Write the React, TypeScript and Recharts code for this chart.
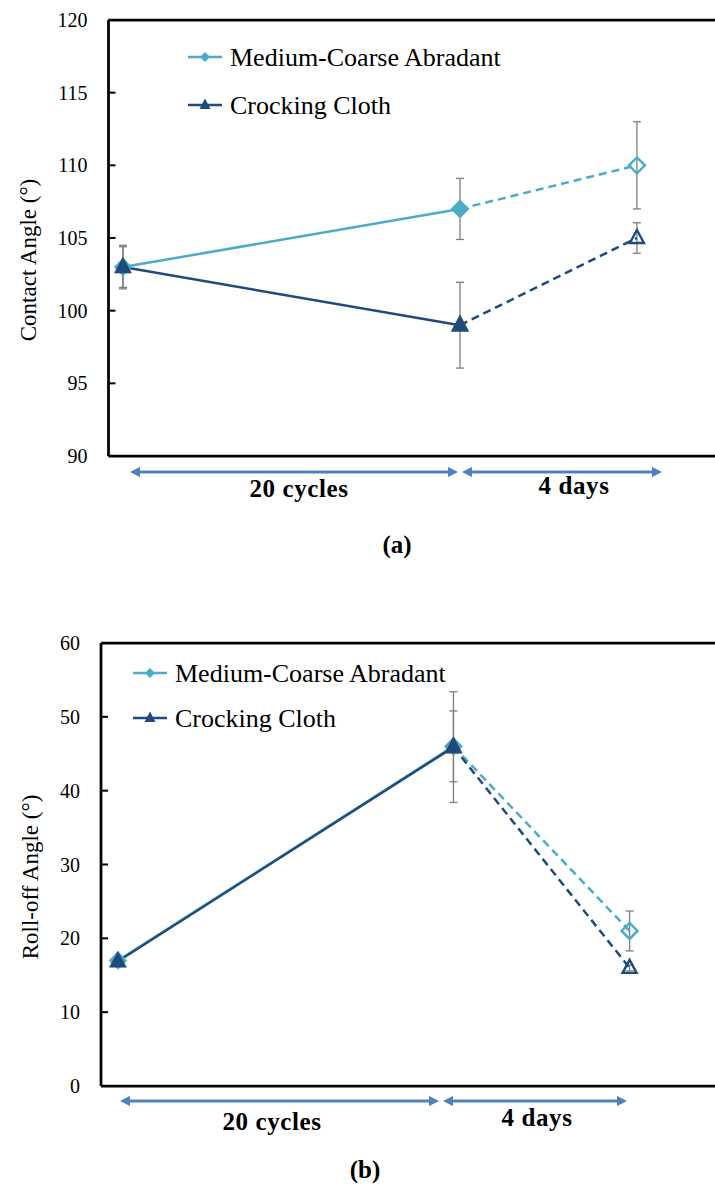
import React from "react";
import { ErrorBar, Line, LineChart, ReferenceLine, XAxis, YAxis } from "recharts";

const FONT = '"Liberation Serif", "Times New Roman", serif';
const CYAN = "#4bacc6";
const NAVY = "#1f4a7c";
const ARROW = "#4f81bd";
const ERR = "#7f7f7f";

const seriesNames = ["Medium-Coarse Abradant", "Crocking Cloth"];
// position of the three measurements along the horizontal axis
const stagePos = [0, 2, 3.05];
const phaseLabels = ["20 cycles", "4 days"];

// (a) contact angle
const contactMC = [103, 107, 110];
const contactMCErr = [1.5, 2.1, 3.0];
const contactCC = [103, 99, 105];
const contactCCErr = [1.4, 2.95, 1.05];
const contactTicks = [90, 95, 100, 105, 110, 115, 120];

// (b) roll-off angle
const rollMC = [17, 46, 21];
const rollMCErr = [0.5, 4.8, 2.7];
const rollCC = [16.9, 45.9, 16];
const rollCCErr = [0.4, 7.5, 0.4];
const rollTicks = [0, 10, 20, 30, 40, 50, 60];

type Row = { x: number; mc: number; mcErr: number; cc: number; ccErr: number };

function buildRows(mc: number[], mcErr: number[], cc: number[], ccErr: number[]): Row[] {
  return stagePos.map((x, i) => ({ x, mc: mc[i], mcErr: mcErr[i], cc: cc[i], ccErr: ccErr[i] }));
}

const diamondPath = (cx: number, cy: number, r: number) =>
  `M${cx},${cy - r}L${cx + r},${cy}L${cx},${cy + r}L${cx - r},${cy}Z`;
const trianglePath = (cx: number, cy: number, w: number, up: number, down: number) =>
  `M${cx},${cy - up}L${cx + w},${cy + down}L${cx - w},${cy + down}Z`;

// openIdx: index (within the line's own data) drawn as a hollow marker
const makeDot = (shape: "diamond" | "triangle", color: string, openIdx: number) => (p: any) => {
  const { cx, cy, index } = p;
  if (cx == null || cy == null) return <g key={`e-${index}`} />;
  const open = index === openIdx;
  const d =
    shape === "diamond"
      ? diamondPath(cx, cy, open ? 8 : 9)
      : open
      ? trianglePath(cx, cy, 7, 8, 5)
      : trianglePath(cx, cy, 8.5, 10, 6);
  return (
    <path
      key={`${shape}-${index}`}
      d={d}
      fill={open ? "none" : color}
      stroke={color}
      strokeWidth={open ? 2.4 : 0.5}
    />
  );
};

const AxisTick = (p: any) => {
  const { x, y, payload } = p;
  return (
    <g>
      <text x={x} y={y} dy="0.35em" textAnchor="end" fontSize={20} fill="#000" fontFamily={FONT}>
        {payload.value}
      </text>
      <line x1={x + 21} x2={x + 28} y1={y} y2={y} stroke="#000" strokeWidth={2} />
    </g>
  );
};

const LegendBox = ({ left, top, gap }: { left: number; top: number; gap: number }) => (
  <g transform={`translate(${left},${top})`}>
    {seriesNames.map((name, i) => {
      const y = i * gap;
      const color = i === 0 ? CYAN : NAVY;
      return (
        <g key={name}>
          <line x1={0} x2={34} y1={y} y2={y} stroke={color} strokeWidth={2.5} />
          <path
            d={i === 0 ? diamondPath(17, y, 5) : trianglePath(17, y, 5.5, 6.5, 4)}
            fill={color}
          />
          <text x={42} y={y} dy="0.33em" fontSize={26} fontFamily={FONT} fill="#000">
            {name}
          </text>
        </g>
      );
    })}
  </g>
);

type PanelProps = {
  rows: Row[];
  ticks: number[];
  yDomain: [number, number];
  xDomain: [number, number];
  yAxisWidth: number;
  marginTop: number;
  height: number;
  top: number;
};

function Panel(props: PanelProps) {
  const { rows, ticks, yDomain, xDomain, yAxisWidth, marginTop, height, top } = props;
  const axisStyle = { stroke: "#000", strokeWidth: 2.75 };
  return (
    <div style={{ position: "absolute", left: 0, top }}>
      <LineChart width={730} height={height} data={rows} margin={{ top: marginTop, right: 10, bottom: 15, left: 0 }}>
        <XAxis
          type="number"
          dataKey="x"
          domain={xDomain}
          allowDataOverflow
          ticks={stagePos}
          tick={false}
          tickLine={false}
          axisLine={axisStyle}
          height={1}
        />
        <YAxis
          type="number"
          domain={yDomain}
          allowDataOverflow
          ticks={ticks}
          interval={0}
          width={yAxisWidth}
          tickSize={0}
          tickMargin={21}
          tickLine={false}
          axisLine={axisStyle}
          tick={(p: any) => <AxisTick {...p} />}
        />
        <ReferenceLine y={yDomain[1]} stroke="#000" strokeWidth={2.75} />

        {/* error bars */}
        <Line dataKey="mc" stroke="none" dot={false} activeDot={false} legendType="none" isAnimationActive={false}>
          <ErrorBar dataKey="mcErr" width={4} stroke={ERR} strokeWidth={1.3} />
        </Line>
        <Line dataKey="cc" stroke="none" dot={false} activeDot={false} legendType="none" isAnimationActive={false}>
          <ErrorBar dataKey="ccErr" width={4} stroke={ERR} strokeWidth={1.3} />
        </Line>

        {/* Medium-Coarse Abradant */}
        <Line
          data={rows.slice(0, 2)}
          dataKey="mc"
          stroke={CYAN}
          strokeWidth={2.5}
          dot={makeDot("diamond", CYAN, -1)}
          activeDot={false}
          isAnimationActive={false}
        />
        <Line
          data={rows.slice(1)}
          dataKey="mc"
          stroke={CYAN}
          strokeWidth={2.5}
          strokeDasharray="8 5"
          dot={makeDot("diamond", CYAN, 1)}
          activeDot={false}
          isAnimationActive={false}
        />

        {/* Crocking Cloth */}
        <Line
          data={rows.slice(0, 2)}
          dataKey="cc"
          stroke={NAVY}
          strokeWidth={2.5}
          dot={makeDot("triangle", NAVY, -1)}
          activeDot={false}
          isAnimationActive={false}
        />
        <Line
          data={rows.slice(1)}
          dataKey="cc"
          stroke={NAVY}
          strokeWidth={2.5}
          strokeDasharray="8 5"
          dot={makeDot("triangle", NAVY, 1)}
          activeDot={false}
          isAnimationActive={false}
        />
      </LineChart>
    </div>
  );
}

const Arrow = ({ x1, x2, y }: { x1: number; x2: number; y: number }) => (
  <line x1={x1 + 9} x2={x2 - 9} y1={y} y2={y} stroke={ARROW} strokeWidth={3} markerStart="url(#ah)" markerEnd="url(#ah)" />
);

const boldText = { fontFamily: FONT, fontWeight: 700, fill: "#000" } as const;

export default function App() {
  const rowsA = buildRows(contactMC, contactMCErr, contactCC, contactCCErr);
  const rowsB = buildRows(rollMC, rollMCErr, rollCC, rollCCErr);
  return (
    <div style={{ position: "absolute", left: 0, top: 0, width: 715, height: 1191, overflow: "hidden", background: "#fff" }}>
      <Panel
        rows={rowsA}
        ticks={contactTicks}
        yDomain={[90, 120]}
        xDomain={[-0.086, 3.543]}
        yAxisWidth={108.5}
        marginTop={20}
        height={472}
        top={0}
      />
      <Panel
        rows={rowsB}
        ticks={rollTicks}
        yDomain={[0, 60]}
        xDomain={[-0.101, 3.589]}
        yAxisWidth={101}
        marginTop={43}
        height={502}
        top={600}
      />
      <svg width={715} height={1191} style={{ position: "absolute", left: 0, top: 0, pointerEvents: "none" }}>
        <defs>
          <marker id="ah" viewBox="0 0 10 10" refX="1" refY="5" markerWidth="3.4" markerHeight="3.4" orient="auto-start-reverse">
            <path d="M0,0L10,5L0,10Z" fill={ARROW} />
          </marker>
        </defs>
        <LegendBox left={188} top={57} gap={48} />
        <LegendBox left={133} top={673} gap={45} />

        <text transform="translate(28,260) rotate(-90)" textAnchor="middle" dy="0.35em" fontSize={23} fontFamily={FONT}>
          Contact Angle (°)
        </text>
        <Arrow x1={130} x2={458} y={472} />
        <Arrow x1={462} x2={662} y={472} />
        <text x={299} y={497} textAnchor="middle" fontSize={25} letterSpacing={0.6} {...boldText}>
          {phaseLabels[0]}
        </text>
        <text x={574} y={494} textAnchor="middle" fontSize={25} letterSpacing={0.6} {...boldText}>
          {phaseLabels[1]}
        </text>
        <text x={397} y={553} textAnchor="middle" fontSize={25} {...boldText}>
          (a)
        </text>

        <text transform="translate(30,877) rotate(-90)" textAnchor="middle" dy="0.35em" fontSize={23} fontFamily={FONT}>
          Roll-off Angle (°)
        </text>
        <Arrow x1={120} x2={439} y={1101} />
        <Arrow x1={443} x2={627} y={1101} />
        <text x={272} y={1130} textAnchor="middle" fontSize={25} letterSpacing={0.6} {...boldText}>
          {phaseLabels[0]}
        </text>
        <text x={537} y={1126} textAnchor="middle" fontSize={25} letterSpacing={0.6} {...boldText}>
          {phaseLabels[1]}
        </text>
        <text x={365} y={1178} textAnchor="middle" fontSize={25} {...boldText}>
          (b)
        </text>
      </svg>
    </div>
  );
}
